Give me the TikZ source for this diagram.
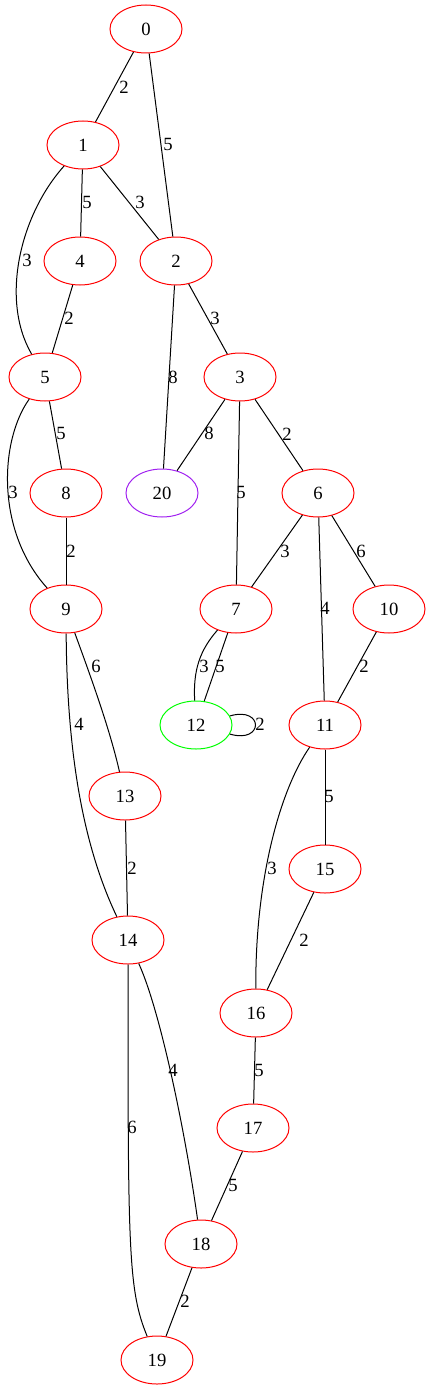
\documentclass[tikz,border=0pt]{standalone}
\usepackage{fontspec}
\setmainfont{Liberation Serif}
\usetikzlibrary{shapes.geometric}
\definecolor{vpurple}{RGB}{160,32,240}
\begin{document}
\begin{tikzpicture}[x=0.75pt,y=-0.75pt,line width=0.75pt,
  vert/.style={ellipse,draw=red,line width=0.75pt,minimum width=54pt,minimum height=36pt,inner sep=0pt,font=\fontsize{14}{16}\selectfont},
  wt/.style={inner sep=0pt,font=\fontsize{14}{16}\selectfont}]
\useasboundingbox (0,0) rectangle (431,1391);
% vertices
\node[vert] (n0) at (146,29) {0};
\node[vert] (n1) at (83,145) {1};
\node[vert] (n4) at (80,261) {4};
\node[vert] (n2) at (176,261) {2};
\node[vert] (n5) at (45,377) {5};
\node[vert] (n3) at (240,377) {3};
\node[vert] (n8) at (66,493) {8};
\node[vert,draw=vpurple] (n20) at (162,493) {20};
\node[vert] (n6) at (318,493) {6};
\node[vert] (n9) at (66,609) {9};
\node[vert] (n7) at (236,609) {7};
\node[vert] (n10) at (389,609) {10};
\node[vert,draw=green] (n12) at (196,725) {12};
\node[vert] (n11) at (325,725) {11};
\node[vert] (n13) at (125,796) {13};
\node[vert] (n15) at (325,869) {15};
\node[vert] (n14) at (128,940) {14};
\node[vert] (n16) at (256,1013) {16};
\node[vert] (n17) at (253,1128) {17};
\node[vert] (n18) at (201,1244) {18};
\node[vert] (n19) at (157,1360) {19};
% edges
\draw (n0) -- (n1);
\draw (n0) -- (n2);
\draw (n1) -- (n4);
\draw (n1) -- (n2);
\draw (n1) .. controls (20,215) and (0,300) .. (n5);
\draw (n4) -- (n5);
\draw (n2) -- (n3);
\draw (n2) -- (n20);
\draw (n3) -- (n20);
\draw (n3) -- (n7);
\draw (n3) -- (n6);
\draw (n5) -- (n8);
\draw (n5) .. controls (0,440) and (-5,530) .. (n9);
\draw (n8) -- (n9);
\draw (n6) -- (n7);
\draw (n6) -- (n11);
\draw (n6) -- (n10);
\draw (n10) -- (n11);
\draw (n9) .. controls (92,680) and (110,730) .. (n13);
\draw (n9) .. controls (67,760) and (85,850) .. (n14);
\draw (n7) .. controls (200,650) and (193,670) .. (n12);
\draw (n7) -- (n12);
\draw (n12.15) .. controls (264,706) and (264,744) .. (n12.-15);
\draw (n11) -- (n15);
\draw (n11) .. controls (280,790) and (255,880) .. (n16);
\draw (n13) -- (n14);
\draw (n15) -- (n16);
\draw (n14) .. controls (160,1010) and (185,1130) .. (n18);
\draw (n14) .. controls (128,1250) and (128,1290) .. (n19);
\draw (n16) -- (n17);
\draw (n17) -- (n18);
\draw (n18) -- (n19);
% weights
\node[wt] (w0a) at (124,87) {2};
\node[wt] (w0b) at (168,144) {5};
\node[wt] (w1a) at (87,202) {5};
\node[wt] (w1b) at (140,202) {3};
\node[wt] (w1c) at (27,260) {3};
\node[wt] (w4a) at (69,318) {2};
\node[wt] (w2a) at (215,318) {3};
\node[wt] (w2b) at (173,377) {8};
\node[wt] (w3a) at (209,433) {8};
\node[wt] (w3b) at (287,434) {2};
\node[wt] (w5a) at (61,433) {5};
\node[wt] (w5b) at (13,492) {3};
\node[wt] (w3c) at (241,492) {5};
\node[wt] (w8a) at (71,551) {2};
\node[wt] (w6a) at (285,551) {3};
\node[wt] (w6b) at (361,551) {6};
\node[wt] (w6c) at (325,608) {4};
\node[wt] (w9a) at (96,666) {6};
\node[wt] (w7a) at (204,666) {3};
\node[wt] (w7b) at (220,666) {5};
\node[wt] (w10a) at (364,666) {2};
\node[wt] (w9b) at (79,724) {4};
\node[wt] (w12a) at (260,724) {2};
\node[wt] (w11a) at (329,796) {5};
\node[wt] (w13a) at (132,868) {2};
\node[wt] (w11b) at (272,868) {3};
\node[wt] (w15a) at (304,940) {2};
\node[wt] (w14a) at (173,1070) {4};
\node[wt] (w16a) at (259,1070) {5};
\node[wt] (w14b) at (132,1127) {6};
\node[wt] (w17a) at (233,1185) {5};
\node[wt] (w18a) at (185,1301) {2};
\end{tikzpicture}
\end{document}
